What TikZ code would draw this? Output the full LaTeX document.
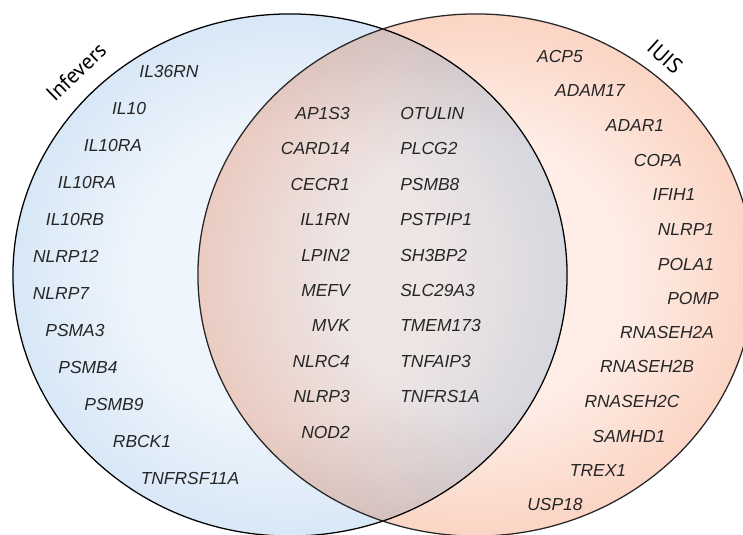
\documentclass[tikz,border=0pt]{standalone}
\usepackage{fontspec}
\setmainfont{Liberation Sans}
\newfontfamily\titlefont{PT Sans}
\usepackage{xcolor}
\usepackage{tikz}
\usetikzlibrary{calc}

\definecolor{infLight}{HTML}{EEF5FC}
\definecolor{infBlue}{HTML}{C4DBF2}
\definecolor{iuisLight}{HTML}{FEEEE7}
\definecolor{iuisSalmon}{HTML}{F8BFA7}
\definecolor{geneText}{HTML}{262626}

% radial shadings, edge of the ellipse at about 35bp
\pgfdeclareradialshading{infeversshade}{\pgfpoint{0bp}{0bp}}{%
  color(0bp)=(infLight); color(14bp)=(infLight); color(35bp)=(infBlue); color(50bp)=(infBlue)}
\pgfdeclareradialshading{iuisshade}{\pgfpoint{0bp}{0bp}}{%
  color(0bp)=(iuisLight); color(13bp)=(iuisLight); color(35bp)=(iuisSalmon); color(50bp)=(iuisSalmon)}

\begin{document}
\begin{tikzpicture}[x=0.025cm, y=-0.025cm,
    gene/.style={font=\fontsize{12.4}{14}\selectfont\itshape, text=geneText, inner sep=0pt},
    setname/.style={font=\titlefont\fontsize{15.5}{18}\selectfont, text=black, inner sep=0pt}]
  \clip (0,0) rectangle (743,534);
  % Infevers set (left) and IUIS set (right), overlap by multiply
  \shade[shading=infeversshade] (290,275) ellipse [x radius=6.925cm, y radius=6.525cm];
  \shade[shading=iuisshade, blend mode=multiply] (476,275) ellipse [x radius=6.95cm, y radius=6.525cm];
  \draw[black, line width=0.9pt] (290,275) ellipse [x radius=6.925cm, y radius=6.525cm];
  \draw[black!85, line width=0.9pt] (476,275) ellipse [x radius=6.95cm, y radius=6.525cm];
  % Set names
  \node[setname, rotate=44] (infevers) at (76,72) {Infevers};
  \node[setname, rotate=-42] (iuis) at (665,57) {IUIS};
  % Infevers only
  \node[gene] (il36rn) at (169,71) {IL36RN};
  \node[gene] (il10) at (129,108) {IL10};
  \node[gene] (il10ra) at (113,145) {IL10RA};
  \node[gene] (il10rab) at (87,182) {IL10RA};
  \node[gene] (il10rb) at (75,219) {IL10RB};
  \node[gene] (nlrp12) at (66,256) {NLRP12};
  \node[gene] (nlrp7) at (61,293) {NLRP7};
  \node[gene] (psma3) at (75,330) {PSMA3};
  \node[gene] (psmb4) at (88,367) {PSMB4};
  \node[gene] (psmb9) at (114,404) {PSMB9};
  \node[gene] (rbck1) at (142,441) {RBCK1};
  \node[gene] (tnfrsf11a) at (190,478) {TNFRSF11A};
  % Both lists, left column
  \node[gene, anchor=east] (ap1s3) at (350,113.5) {AP1S3};
  \node[gene, anchor=east] (card14) at (350,148.9) {CARD14};
  \node[gene, anchor=east] (cecr1) at (350,184.3) {CECR1};
  \node[gene, anchor=east] (il1rn) at (350,219.7) {IL1RN};
  \node[gene, anchor=east] (lpin2) at (350,255.1) {LPIN2};
  \node[gene, anchor=east] (mefv) at (350,290.5) {MEFV};
  \node[gene, anchor=east] (mvk) at (350,325.9) {MVK};
  \node[gene, anchor=east] (nlrc4) at (350,361.3) {NLRC4};
  \node[gene, anchor=east] (nlrp3) at (350,396.7) {NLRP3};
  \node[gene, anchor=east] (nod2) at (350,432.1) {NOD2};
  % Both lists, right column
  \node[gene, anchor=west] (otulin) at (400,113.5) {OTULIN};
  \node[gene, anchor=west] (plcg2) at (400,148.9) {PLCG2};
  \node[gene, anchor=west] (psmb8) at (400,184.3) {PSMB8};
  \node[gene, anchor=west] (pstpip1) at (400,219.7) {PSTPIP1};
  \node[gene, anchor=west] (sh3bp2) at (400,255.1) {SH3BP2};
  \node[gene, anchor=west] (slc29a3) at (400,290.5) {SLC29A3};
  \node[gene, anchor=west] (tmem173) at (400,325.9) {TMEM173};
  \node[gene, anchor=west] (tnfaip3) at (400,361.3) {TNFAIP3};
  \node[gene, anchor=west] (tnfrs1a) at (400,396.7) {TNFRS1A};
  % IUIS only
  \node[gene] (acp5) at (560,56) {ACP5};
  \node[gene] (adam17) at (590,90) {ADAM17};
  \node[gene] (adar1) at (635,125) {ADAR1};
  \node[gene] (copa) at (658,160) {COPA};
  \node[gene] (ifih1) at (674,194) {IFIH1};
  \node[gene] (nlrp1) at (686,229) {NLRP1};
  \node[gene] (pola1) at (686,264) {POLA1};
  \node[gene] (pomp) at (693,298) {POMP};
  \node[gene] (rnaseh2a) at (667,332) {RNASEH2A};
  \node[gene] (rnaseh2b) at (647,366) {RNASEH2B};
  \node[gene] (rnaseh2c) at (632,401) {RNASEH2C};
  \node[gene] (samhd1) at (629,436) {SAMHD1};
  \node[gene] (trex1) at (598,470) {TREX1};
  \node[gene] (usp18) at (555,504) {USP18};
\end{tikzpicture}
\end{document}
